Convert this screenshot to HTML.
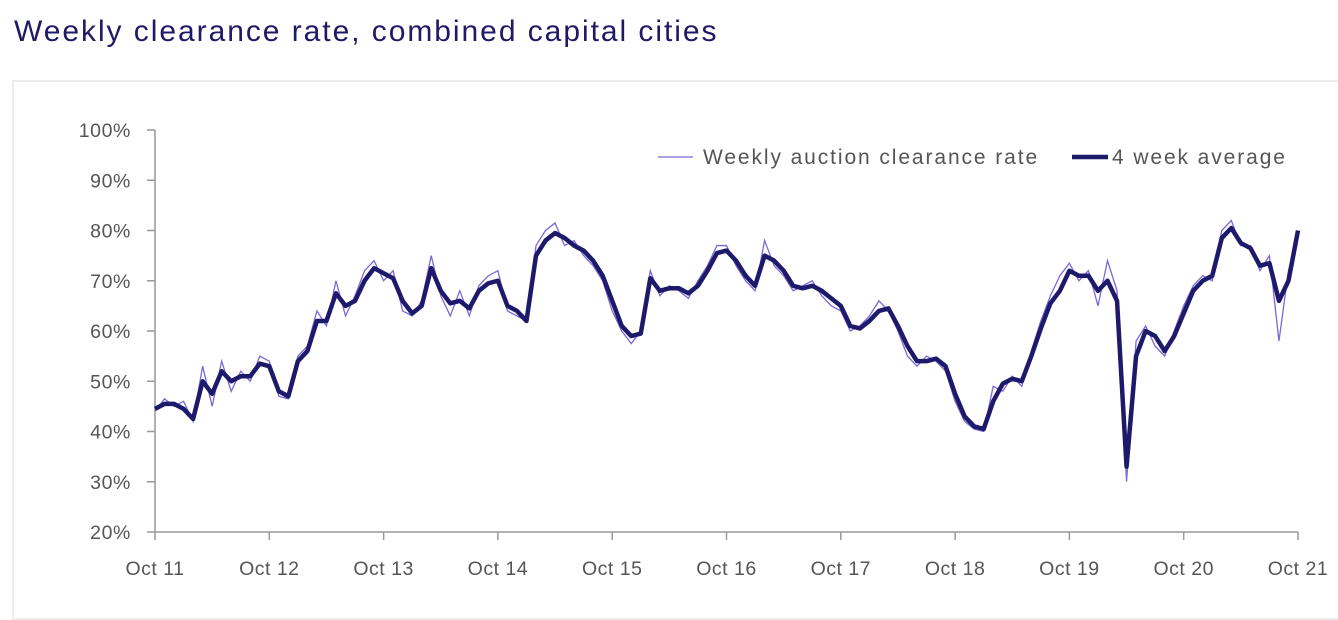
<!DOCTYPE html>
<html><head><meta charset="utf-8"><style>
body{margin:0;width:1338px;height:602px;background:#fff;overflow:hidden;font-family:"Liberation Sans",sans-serif;}
#title{position:absolute;left:14px;top:15px;font-size:30px;letter-spacing:1.95px;color:#1e1a66;}
#box{position:absolute;left:12px;top:80px;width:1340px;height:540px;border:2px solid #ececec;box-sizing:border-box;}
svg{position:absolute;left:0;top:0;}
text{font-family:"Liberation Sans",sans-serif;fill:#555;}
</style></head><body>
<div id="title">Weekly clearance rate, combined capital cities</div>
<div id="box"></div>
<svg id="c" width="1338" height="602"></svg>
<script>
const xLabels=["Oct 11","Oct 12","Oct 13","Oct 14","Oct 15","Oct 16","Oct 17","Oct 18","Oct 19","Oct 20","Oct 21"];
const yTicks=[20,30,40,50,60,70,80,90,100];
const avg=[44.5,45.5,45.5,44.5,42.5,50,47.5,52,50,51,51,53.5,
53,48,47,54,56,62,62,67.5,65,66,70,72.5,
71.5,70.5,66,63.5,65,72.5,68,65.5,66,64.5,68,69.5,
70,65,64,62,75,78,79.5,78.5,77,76,74,71,
66,61,59,59.5,70.5,68,68.5,68.5,67.5,69,72,75.5,
76,74,71,69,75,74,72,69,68.5,69,68,66.5,
65,61,60.5,62,64,64.5,61,57,54,54,54.5,53,
47.5,43,41,40.5,46,49.5,50.5,50,55,60.5,65.5,68,
72,71,71,68,70,66,33,55,60,59,56,59,
63.5,68,70,71,78.5,80.5,77.5,76.5,73,73.5,66,70,80];
const weekly=[44,46.5,45,46,42,53,45,54,48,52,50,55,
54,47,46.5,55,57,64,61,70,63,67,72,74,
70,72,64,63,66,75,67,63,68,63,69,71,
72,64,63,62,77,80,81.5,77,78,75,73,70,
64,60,57.5,60,72,67,69,68,66.5,70,73,77,
77,73,70,68,78,73,71,68,69,70,67,65,
64,60,61,63,66,64,60,55,53,55,54,52,
46,42,40.5,40,49,48,51,49,56,62,67,71,
73.5,70,72,65,74,68,30,58,61,57,55,60,
65,69,71,70,80,82,77,77,72,75,58,72,79];
const svg=document.getElementById('c');const NS='http://www.w3.org/2000/svg';
const x0=155,x1=1298,y0=532,y1=130;
const xs=i=>x0+(x1-x0)*i/120;
const ys=v=>y0-(v-20)/80*(y0-y1);
function el(t,a,p){const e=document.createElementNS(NS,t);for(const k in a)e.setAttribute(k,a[k]);(p||svg).appendChild(e);return e;}
let ax=el('line',{x1:x0,y1:y1,x2:x0,y2:y0,stroke:'#999','stroke-width':1.5});


let bx=el('line',{x1:x0,y1:y0,x2:x1,y2:y0,stroke:'#999','stroke-width':1.5});


yTicks.forEach(v=>{
 el('line',{x1:x0-8,y1:ys(v),x2:x0,y2:ys(v),stroke:'#999','stroke-width':1.5});
 const t=el('text',{x:131,y:ys(v)+7,'text-anchor':'end','font-size':19.5,'letter-spacing':0.6});t.textContent=v+'%';
 
 
});
xLabels.forEach((l,i)=>{
 const x=xs(i*12);
 el('line',{x1:x,y1:y0,x2:x,y2:y0+8,stroke:'#999','stroke-width':1.5});
 const t=el('text',{x:x,y:575,'text-anchor':'middle','font-size':19.5,'letter-spacing':0.5});t.textContent=l;
 
 
});
const pw=el('polyline',{points:weekly.map((v,i)=>xs(i)+','+ys(v)).join(' '),fill:'none',stroke:'#7b68d8','stroke-width':1.3});


const pa=el('polyline',{points:avg.map((v,i)=>xs(i)+','+ys(v)).join(' '),fill:'none',stroke:'#1e1a6b','stroke-width':4.5,'stroke-linejoin':'round'});


const g=el('g',{});


el('line',{x1:658,y1:157,x2:693,y2:157,stroke:'#7b68d8','stroke-width':1.3},g);
let t1=el('text',{x:703,y:164,'font-size':21,'letter-spacing':1.9},g);t1.textContent='Weekly auction clearance rate';


el('line',{x1:1072,y1:157,x2:1108,y2:157,stroke:'#1e1a6b','stroke-width':4.5},g);
let t2=el('text',{x:1112,y:164,'font-size':21,'letter-spacing':1.9},g);t2.textContent='4 week average';


</script>
</body></html>
